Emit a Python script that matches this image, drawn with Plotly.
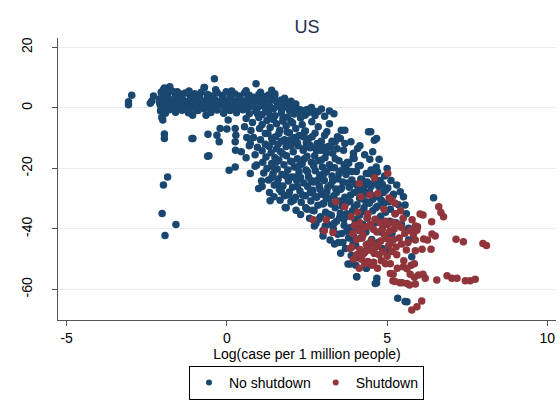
import plotly.graph_objects as go

# Log(cases per 1M people) vs. change in mobility (%), US counties

# --- no shutdown -----------------------------------------------------------
no_shut_x = [
    # low-case outliers on the left
    -3.07, -3.07, -2.97, -2.39, -2.34, -2.29, -2.0, -1.95, -1.95, -1.85, -1.98, -2.02, -1.93, -1.59,
    -1.07, -0.65, -1.09, -0.59, -0.21, -0.31, -0.24, 0.0, 0.26, 0.28, 0.26, 0.27, -0.6, 0.07, 0.26,
    0.04, -0.56, -1.06, -0.39, 0.91, 1.4, -0.71, -1.87,
    # plateau around zero
    -2.05, -1.95, -1.85, -1.78, -1.7, -1.6, -1.45, -1.3, -1.15, -1.0, -0.85, -0.7, -0.6, -0.45, -0.3,
    -0.15, -0.02, 0.1, 0.25, 0.4, 0.55, 0.7, 0.85, 1.0, 1.15, 1.3, 1.49,
    -2.1, -2.0, -1.9, -1.82, -1.72, -1.62, -1.5, -1.38, -1.25, -1.12, -1.0, -0.88, -0.75, -0.62, -0.5,
    -0.38, -0.25, -0.12, 0.0, 0.13, 0.26, 0.4, 0.52, 0.64, 0.78, 0.9, 1.02, 1.15, 1.28, 1.4, 1.55,
    1.7, 1.85, 2.0, 2.05,
    -2.08, -1.97, -1.88, -1.77, -1.66, -1.55, -1.43, -1.32, -1.2, -1.08, -0.95, -0.83, -0.7, -0.57,
    -0.45, -0.33, -0.2, -0.08, 0.05, 0.18, 0.3, 0.43, 0.57, 0.7, 0.82, 0.95, 1.08, 1.2, 1.33, 1.46,
    1.58, 1.7, 1.82, 1.95, 2.1, 2.25, 2.33, 2.44, 2.64, 2.95, 3.34,
    -2.0, -1.8, -1.6, -1.4, -1.2, -0.9, -0.5, -0.3, -0.1, 0.1, 0.3, 0.5, 0.7, 0.9, 1.1, 1.3, 1.5,
    1.7, 1.9, 2.1, 2.3, 2.55, 2.75, 2.85, 3.05, 3.2,
    -2.05, -2.02, -1.98, -1.92, -2.1, -2.03,
    -1.9, -1.75, -1.55, -1.35, -1.18, -0.95, -0.8, -0.55, -0.35, -0.1, 0.15, 0.35, 0.6, 0.8, 1.05,
    1.25, 1.5, 1.65, 1.8, 1.95, 2.15, 2.3, 2.5, 2.7, -1.65, -1.3, -1.0, -0.7, -0.4, -0.05, 0.25,
    0.6, 0.95, 1.35, 1.75, 2.0, -2.0, -1.95, -2.07, -1.88,
    # bend from the plateau into the diagonal
    0.6, 0.8, 1.0, 1.1, 1.25, 1.35, 1.45, 1.55, 1.65, 1.75, 1.85, 1.95, 2.05, 2.15, 2.25, 2.35,
    2.45, 2.55, 2.65, 2.75, 2.85, 2.95, 3.05, 3.12, 3.2, 3.38, 3.25, 3.57, 3.54, 3.68, 3.87, 3.68,
    4.42, 4.49, 4.6, 4.67, 1.2, 1.4, 1.6, 1.8, 2.0, 2.2, 2.4, 2.6, 2.8, 3.0,
    # main diagonal band
    0.55, 0.62, 0.7, 0.75, 0.83, 0.73, 0.88, 0.93, 0.88, 0.73, 0.99, 0.95, 0.6, 0.45,
    1.02, 1.05, 1.08, 1.1, 1.12, 1.15, 1.2, 1.22, 1.25, 1.28, 1.3, 1.33, 1.35, 1.38, 1.4, 1.42,
    1.44, 1.47, 1.48, 1.5, 1.1,
    1.52, 1.55, 1.57, 1.6, 1.62, 1.64, 1.66, 1.68, 1.7, 1.72, 1.75, 1.78, 1.8, 1.82, 1.85, 1.86,
    1.88, 1.9, 1.92, 1.95, 1.97, 1.99, 2.0,
    2.02, 2.05, 2.07, 2.1, 2.12, 2.14, 2.16, 2.18, 2.2, 2.22, 2.25, 2.28, 2.3, 2.32, 2.35, 2.38,
    2.4, 2.42, 2.45, 2.47, 2.5, 2.5, 2.48,
    2.52, 2.55, 2.58, 2.6, 2.62, 2.64, 2.66, 2.68, 2.7, 2.72, 2.74, 2.76, 2.78, 2.8, 2.82, 2.84,
    2.86, 2.88, 2.9, 2.92, 2.94, 2.96, 2.98, 3.0, 3.0,
    3.02, 3.04, 3.06, 3.08, 3.1, 3.12, 3.14, 3.16, 3.18, 3.2, 3.22, 3.24, 3.26, 3.28, 3.3, 3.32,
    3.34, 3.36, 3.38, 3.4, 3.42, 3.44, 3.46, 3.48, 3.5, 3.5,
    3.52, 3.54, 3.56, 3.58, 3.6, 3.62, 3.64, 3.66, 3.68, 3.7, 3.72, 3.74, 3.75, 3.76, 3.78, 3.8,
    3.8, 3.82, 3.84, 3.86, 3.88, 3.9, 3.92, 3.94, 3.96, 3.97, 3.98, 4.0,
    4.02, 4.05, 4.04, 4.06, 4.08, 4.08, 4.1, 4.11, 4.12, 4.14, 4.16, 4.18, 4.2, 4.22, 4.24, 4.26,
    4.28, 4.3, 4.32, 4.34, 4.35, 4.35, 4.38, 4.4, 4.42, 4.44, 4.46, 4.48, 4.5,
    4.52, 4.55, 4.58, 4.6, 4.62, 4.63, 4.64, 4.67, 4.68, 4.66, 4.7, 4.72, 4.74, 4.76, 4.78, 4.8,
    4.82, 4.85, 4.88, 4.9, 4.92, 4.95, 4.98,
    5.02, 5.05, 5.08, 5.12, 5.15, 5.2, 5.25, 5.3, 5.33, 5.35, 5.41, 5.45, 5.51, 5.56, 5.56, 5.6,
    5.67, 5.67, 5.77, 6.45, 5.0, 3.85, 4.05, 4.35, 5.62,
    # core of the band
    1.32, 1.45, 1.58, 1.62, 1.75, 1.85, 1.92, 1.98, 1.55, 1.7, 1.4, 1.85,
    2.03, 2.08, 2.15, 2.2, 2.26, 2.3, 2.36, 2.42, 2.46, 2.52, 2.56, 2.6, 2.12, 2.38,
    2.63, 2.67, 2.71, 2.75, 2.79, 2.83, 2.87, 2.91, 2.95, 2.99, 3.03, 3.07, 3.11, 3.15, 3.19, 3.23,
    2.73, 3.1,
    3.26, 3.3, 3.34, 3.38, 3.42, 3.46, 3.5, 3.54, 3.58, 3.62, 3.66, 3.7, 3.74, 3.78, 3.36, 3.55,
    3.65, 3.28, 3.45,
    3.82, 3.86, 3.9, 3.94, 3.98, 4.02, 4.06, 4.1, 4.14, 4.18, 4.22, 4.26, 4.3, 4.34, 4.38, 4.02,
    4.15, 3.95,
    4.45, 4.5, 4.55, 4.6, 4.65, 4.7, 4.75, 4.8, 4.85, 4.9, 4.95, 5.0, 5.1, 5.18, 5.28, 4.55, 4.75, 5.0,
]
no_shut_y = [
    1.0, 2.0, 4.2, 1.5, 2.3, 3.9, -4.0, -8.6, -10.1, -22.8, -25.5, -34.9, -42.2, -38.5,
    -2.4, -2.4, -10.1, -8.7, -6.8, -9.0, -11.2, -7.0, -6.8, -9.0, -11.2, -14.0, -16.0, -20.6, -19.5,
    -4.0, -15.8, -10.1, 9.6, 8.0, 5.8, 6.7, 6.4,
    5.2, 6.6, 4.1, 7.0, 5.5, 3.9, 4.6, 4.9, 4.2, 4.7, 3.8, 6.7, 4.4, 3.9, 5.0,
    4.1, 5.3, 3.8, 4.6, 3.9, 4.9, 4.2, 3.5, 4.4, 3.7, 4.3, 3.6,
    2.9, 3.3, 2.2, 3.0, 2.4, 3.1, 2.2, 2.8, 2.0, 3.2, 2.4, 2.9, 2.1, 3.0, 2.2,
    2.8, 2.0, 3.1, 2.3, 2.9, 2.1, 3.0, 2.2, 2.8, 2.0, 2.9, 2.1, 2.7, 1.9, 2.8, 2.0,
    2.6, 1.7, 2.2, 1.4,
    1.0, 0.4, 1.3, 0.6, 1.1, 0.2, 1.0, 0.5, 1.2, 0.3, 1.0, 0.4, 1.2, 0.3,
    1.0, 0.5, 1.3, 0.2, 1.0, 0.4, 1.2, 0.2, 0.9, 0.3, 1.1, 0.0, 0.8, -0.2, 0.7, -0.3,
    0.6, -0.5, 0.4, -0.8, 0.2, -0.5, -0.8, -2.4, 0.1, -0.4, -1.9,
    -1.2, -0.6, -1.4, -0.8, -1.6, -0.9, -1.5, -0.7, -1.8, -0.9, -1.6, -0.6, -1.9, -1.0, -2.2, -1.5, -2.6,
    -1.8, -3.0, -2.0, -3.3, -1.5, -2.5, -1.2, -2.8, -1.0,
    -0.2, 4.3, 6.0, -1.8, 1.8, -3.2,
    5.0, 1.8, 5.3, 1.5, 5.6, 1.8, 5.2, 1.6, 6.0, 1.5, 5.6, 1.5, 5.7, 1.4, 5.2,
    1.2, 4.6, 0.9, 3.2, 0.6, 1.3, -1.8, -0.5, -1.0, -0.5, -0.2, -0.3, -0.4, -0.2, -0.4, -0.3,
    -0.2, -2.0, -3.0, -3.5, -4.5, 2.5, 3.8, -1.0, 6.2,
    -3.5, -4.8, -3.2, -5.5, -4.2, -6.5, -3.8, -5.2, -7.4, -4.4, -6.0, -8.2, -5.0, -6.8, -9.1, -5.6,
    -7.6, -10.2, -4.6, -8.4, -6.2, -11.0, -9.0, -7.9, -5.2, -11.2, -12.8, -7.4, -10.1, -7.4, -11.2, -11.8,
    -7.9, -7.9, -10.7, -10.1, -8.5, -10.0, -12.0, -10.5, -12.5, -11.5, -13.5, -12.4, -14.2, -13.0,
    -6.2, -9.8, -12.5, -7.5, -9.8, -11.8, -15.5, -18.9, -19.3, -21.7, -26.6, -13.0, -16.5, -14.5,
    -6.8, -10.5, -24.2, -14.2, -18.0, -21.5, -12.0, -16.2, -20.0, -8.5, -23.8, -28.0, -30.7, -14.8, -18.4, -11.2,
    -21.8, -29.4, -25.5, -16.5, -26.0,
    -9.5, -13.5, -20.2, -23.5, -17.2, -27.0, -30.5, -14.5, -11.0, -22.0, -25.8, -18.8, -29.0, -32.9, -33.0, -15.8,
    -8.0, -20.5, -24.2, -27.8, -12.2, -17.6, -31.0,
    -22.8, -26.2, -14.5, -19.5, -9.8, -29.5, -33.8, -24.0, -16.8, -12.5, -21.2, -27.5, -35.2, -31.2, -18.5, -14.0,
    -24.8, -8.0, -29.0, -20.5, -33.5, -16.0, -11.5,
    -26.0, -22.8, -36.5, -13.2, -30.8, -18.0, -9.5, -27.2, -24.5, -34.0, -15.8, -20.8, -38.2, -29.5, -11.8, -32.2,
    -17.5, -25.8, -22.2, -36.0, -14.0, -28.5, -19.5, -40.5, -42.3,
    -31.5, -24.0, -16.5, -34.5, -21.0, -27.8, -38.5, -12.8, -30.0, -18.8, -43.7, -25.5, -35.5, -22.5, -15.0, -40.0,
    -29.0, -19.8, -33.0, -26.8, -37.5, -13.5, -23.5, -44.5, -30.8, -17.5,
    -36.2, -27.0, -20.8, -41.5, -32.5, -24.5, -14.0, -38.8, -29.5, -46.5, -22.0, -35.0, -20.6, -18.0, -51.6, -18.3,
    -43.0, -26.2, -31.0, -39.5, -48.8, -23.8, -34.0, -16.5, -42.5, -16.7, -28.0, -37.0,
    -45.5, -55.8, -21.0, -32.0, -13.4, -40.0, -26.5, -27.2, -49.5, -35.5, -19.0, -43.0, -30.0, -23.8, -38.5, -47.5,
    -33.0, -28.5, -25.5, -41.0, -53.0, -21.7, -36.5, -45.0, -21.7, -31.5, -17.0, -39.0, -26.0,
    -43.5, -34.0, -22.5, -48.0, -29.0, -58.0, -38.0, -57.9, -56.3, -19.5, -32.5, -44.5, -26.0, -36.5, -24.0, -41.0,
    -30.5, -46.5, -28.0, -38.5, -22.5, -34.5, -43.0,
    -26.5, -31.0, -37.5, -24.0, -41.5, -28.5, -35.0, -25.5, -62.9, -32.0, -27.7, -38.5, -29.4, -32.1, -64.0, -35.0,
    -39.8, -43.7, -49.2, -29.7, -47.5, -51.6, -55.8, -53.0, -64.1,
    -12.8, -19.5, -25.0, -8.5, -15.2, -22.5, -28.8, -10.5, -17.8, -27.8, -23.0, -12.8,
    -17.8, -30.5, -11.2, -26.0, -19.0, -23.0, -28.8, -16.8, -33.0, -21.2, -12.2, -28.0, -22.8, -9.5,
    -24.0, -33.8, -19.2, -29.2, -13.5, -23.8, -36.8, -27.0, -17.2, -31.8, -21.8, -39.0, -14.8, -26.2, -35.2, -19.8,
    -39.0, -29.8,
    -31.8, -24.2, -38.2, -16.8, -28.0, -41.8, -21.8, -34.8, -26.5, -44.5, -18.8, -31.5, -40.8, -24.8, -45.0, -48.0,
    -36.8, -11.0, -9.5,
    -35.8, -28.8, -21.0, -44.8, -32.8, -25.2, -38.0, -19.2, -29.8, -23.5, -34.2, -27.0, -15.5, -31.0, -24.5, -52.0,
    -12.5, -15.0,
    -27.8, -20.5, -30.2, -24.8, -33.0, -21.2, -29.5, -35.8, -25.2, -31.5, -27.2, -38.0, -33.5, -29.0, -38.0, -14.5, -17.0, -20.0,
]

# --- shutdown --------------------------------------------------------------
shut_x = [
    5.02, 4.61, 4.13, 4.18, 4.46, 4.71, 3.4, 3.68, 2.69, 3.1, 3.04, 3.31, 5.06, 5.15, 5.25, 6.12,
    6.03, 6.61, 6.68, 6.76, 6.39, 7.15, 7.38, 7.99, 8.1, 6.09, 6.37, 5.95, 5.88, 5.93, 5.82, 5.88,
    6.14, 6.4, 6.5, 6.26, 5.88, 5.51, 5.62, 5.75, 5.85, 5.72, 5.85, 5.98, 6.12, 6.19, 6.55, 6.87,
    7.02, 7.18, 7.44, 7.59, 7.75, 5.4, 5.62, 5.88, 5.18, 5.1, 5.19, 5.25, 5.47, 5.7, 6.08, 5.77, 5.93,
    3.88, 3.92, 3.9, 3.98, 4.05, 4.08, 4.12, 4.15, 4.2, 4.22, 4.28, 4.3, 4.35, 4.38, 4.4, 4.45,
    4.48, 4.52, 4.55, 4.58, 4.62, 4.65, 4.7, 4.75, 4.8, 4.82, 4.85, 4.9, 4.95, 4.98, 5.0, 5.05,
    5.08, 5.1, 5.15, 5.18, 5.2, 5.25, 5.28, 5.32, 5.38, 5.42, 5.45, 5.5, 5.52, 5.55, 5.6, 5.65,
    5.72, 5.78, 4.13, 3.85, 3.95, 4.21,
    4.25, 4.32, 4.42, 4.5, 4.6, 4.68, 4.72, 4.78, 4.88, 4.92, 5.02, 5.12, 5.22, 5.3, 5.35, 4.4,
    4.58, 4.05, 4.15, 5.45, 4.95, 4.3,
]
shut_y = [
    -21.7, -23.1, -25.0, -29.4, -28.8, -28.3, -31.0, -32.7, -37.0, -37.0, -40.6, -41.2, -29.8, -30.6, -31.5, -35.4,
    -35.1, -32.7, -34.6, -36.0, -37.6, -43.4, -44.2, -44.8, -45.5, -46.7, -46.7, -39.3, -39.0, -40.4, -42.0, -43.7,
    -43.3, -41.7, -42.3, -43.7, -47.2, -52.5, -53.2, -52.0, -51.5, -55.0, -56.0, -55.2, -55.0, -56.3, -56.9, -55.5,
    -56.3, -56.3, -57.1, -57.1, -56.6, -57.8, -58.0, -58.2, -57.1, -54.7, -54.9, -57.4, -57.8, -58.5, -63.8, -66.8, -65.7,
    -36.0, -41.5, -46.0, -38.8, -48.5, -34.5, -40.5, -46.8, -50.0, -43.0, -48.0, -39.5, -45.2, -36.2, -50.8, -47.0,
    -38.5, -52.0, -44.8, -40.2, -36.8, -46.0, -53.0, -48.5, -44.0, -50.5, -40.0, -33.5, -37.5, -43.2, -49.0, -45.5,
    -40.8, -51.5, -47.5, -37.8, -43.5, -35.0, -46.0, -53.0, -43.0, -34.0, -39.5, -36.5, -50.5, -41.5, -47.0, -44.5,
    -40.5, -37.0, -53.0, -46.5, -50.0, -49.0,
    -42.0, -47.5, -39.0, -44.0, -48.0, -41.0, -45.5, -38.0, -47.5, -42.0, -38.5, -44.5, -40.0, -48.5, -38.5, -35.0,
    -51.0, -43.5, -38.0, -45.0, -51.5, -51.5,
]

NAVY = "#1a476f"
MAROON = "#90353b"
FONT = "Liberation Sans, Arial, sans-serif"

fig = go.Figure()
fig.add_trace(go.Scatter(
    x=no_shut_x, y=no_shut_y, mode="markers", name="No shutdown", showlegend=False,
    legendgroup="no", marker=dict(color=NAVY, size=7.5, line=dict(width=0)),
))
fig.add_trace(go.Scatter(
    x=shut_x, y=shut_y, mode="markers", name="Shutdown", showlegend=False,
    legendgroup="sd", marker=dict(color=MAROON, size=7.5, line=dict(width=0)),
))
# legend keys with the smaller symbol size used in the key
for name, color, grp in [("No shutdown", NAVY, "no"), ("Shutdown", MAROON, "sd")]:
    fig.add_trace(go.Scatter(
        x=[None], y=[None], mode="markers", name=name, legendgroup=grp,
        marker=dict(color=color, size=6, line=dict(width=0)),
    ))

fig.update_layout(
    width=560, height=409,
    margin=dict(l=58, r=4, t=38, b=89),
    paper_bgcolor="white", plot_bgcolor="white",
    font=dict(family=FONT, size=14, color="black"),
    title=dict(text="US", x=0.5, xanchor="center", xref="paper",
               y=1 - 26.7 / 409, yref="container", yanchor="middle",
               font=dict(family=FONT, size=18, color="#1e2d50")),
    showlegend=True,
    legend=dict(
        orientation="h", xref="container", yref="container",
        x=306.5 / 560, xanchor="center", y=1 - 366 / 409, yanchor="top",
        bordercolor="black", borderwidth=1, bgcolor="white",
        font=dict(family=FONT, size=14, color="black"),
    ),
)

fig.update_xaxes(
    range=[-5.27, 10.27], tickvals=[-5, 0, 5, 10], ticktext=["-5", "0", "5", "10"],
    showgrid=False, zeroline=False,
    showline=True, linecolor="#555555", linewidth=1,
    ticks="outside", ticklen=5, tickcolor="#555555",
    tickfont=dict(family=FONT, size=14, color="black"),
    title=dict(text="Log(case per 1 million people)", standoff=1,
               font=dict(family=FONT, size=14, color="black")),
)
fig.update_yaxes(
    range=[-70.1, 23.1], tickvals=[-60, -40, -20, 0, 20], ticktext=["-60", "-40", "-20", "0", "20"],
    tickangle=-90,
    showgrid=True, gridcolor="#e6eef0", gridwidth=1, zeroline=False,
    showline=True, linecolor="#555555", linewidth=1,
    ticks="outside", ticklen=5, tickcolor="#555555",
    ticklabelstandoff=14,
    tickfont=dict(family=FONT, size=14, color="black"),
)

fig.write_html("out.html")
